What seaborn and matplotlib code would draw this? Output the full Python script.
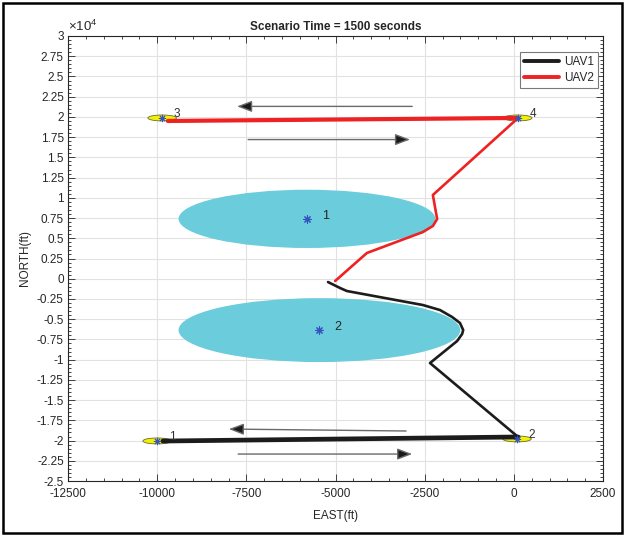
import matplotlib
matplotlib.use("Agg")
import matplotlib.pyplot as plt
import numpy as np
import pandas as pd
import seaborn as sns
from matplotlib.patches import Ellipse, Rectangle, FancyArrowPatch
from matplotlib.ticker import MultipleLocator, FuncFormatter

# UAV trajectories (feet)
uav1_east = [-5210, -4870, -4680, -2550, -2070, -1730, -1510, -1420, -1450, -1590, -2350, 120, -9840]
uav1_north = [-410, -1150, -1520, -3250, -3870, -4730, -5470, -6340, -6830, -7700, -10420, -19560, -20060]
uav2_east = [-5010, -4120, -2550, -2270, -2150, -2270, 120, -9700]
uav2_north = [-280, 3180, 5770, 6520, 7380, 10350, 19870, 19500]

# No-fly zones (center and radius, feet)
zone_ids = ["1", "2"]
zone_east = [-5800, -5450]
zone_north = [7400, -6350]
zone_radius = [3600, 3950]

# Waypoints
wp_ids = ["1", "2", "3", "4"]
wp_east = [-10000, 90, -9860, 110]
wp_north = [-20050, -19800, 19870, 19870]
wp_radius = 400

# Direction-of-travel arrows (start -> end)
arrow_start_e = [-2850, -7450, -3020, -7730]
arrow_start_n = [21300, 17200, -18820, -21670]
arrow_end_e = [-7760, -2910, -7990, -2850]
arrow_end_n = [21300, 17200, -18580, -21670]

x_ticks = [-12500, -10000, -7500, -5000, -2500, 0, 2500]
y_ticks = list(range(-25000, 30001, 2500))

sns.set_style("ticks")
plt.rcParams["font.family"] = ["Liberation Sans", "DejaVu Sans"]
plt.rcParams["mathtext.fontset"] = "custom"
plt.rcParams["mathtext.rm"] = "Liberation Sans"

fig = plt.figure(figsize=(6.25, 5.36), dpi=100)
ax = fig.add_axes([68 / 625, 1 - 481 / 536, 535 / 625, 445 / 536])
ax.set_facecolor("white")

ax.set_xlim(-12500, 2500)
ax.set_ylim(-25000, 30000)
ax.set_xticks(x_ticks)
ax.set_yticks(y_ticks)
ax.xaxis.set_minor_locator(MultipleLocator(500))
ax.yaxis.set_minor_locator(MultipleLocator(500))
ax.xaxis.set_major_formatter(FuncFormatter(lambda v, p: f"{v:g}"))
ax.yaxis.set_major_formatter(FuncFormatter(lambda v, p: f"{v / 1e4:g}"))
ax.grid(True, which="major", color="#e2e2e2", lw=0.8)
ax.set_axisbelow(True)
ax.tick_params(which="both", direction="in", top=True, right=True,
               labelsize=8.5, colors="#262626", width=0.6)
ax.tick_params(which="major", length=5)
ax.tick_params(axis="x", which="major", pad=5)
ax.tick_params(axis="y", which="major", pad=3)
ax.tick_params(which="minor", length=2.5)
for s in ax.spines.values():
    s.set_visible(True)
    s.set_color("#262626")
    s.set_linewidth(0.8)

# No-fly zones
for e, n, r, lab in zip(zone_east, zone_north, zone_radius, zone_ids):
    ax.add_patch(Ellipse((e, n), 2 * r, 2 * r, facecolor="#6bccdb",
                         edgecolor="none", zorder=1))
    ax.text(e + 420, n + 370, lab, fontsize=9, color="#262626",
            ha="left", va="center", zorder=5)

# Waypoints
for e, n, lab in zip(wp_east, wp_north, wp_ids):
    ax.add_patch(Ellipse((e, n), 2 * wp_radius, 2 * wp_radius * 0.92,
                         facecolor="#f2f200", edgecolor="#6a6a3a", lw=0.6,
                         zorder=2))
    ax.text(e + 330, n + 430, lab, fontsize=8.5, color="#303030",
            ha="left", va="center", zorder=5)

star = (8, 2, 0)
ax.scatter(zone_east, zone_north, marker=star, s=28, color="#3552c0",
           lw=0.8, zorder=6)
ax.scatter(wp_east, wp_north, marker=star, s=22, color="#3552c0",
           lw=0.7, zorder=6)

# Flight paths
paths = pd.concat([
    pd.DataFrame({"EAST": uav1_east, "NORTH": uav1_north, "UAV": "UAV1"}),
    pd.DataFrame({"EAST": uav2_east, "NORTH": uav2_north, "UAV": "UAV2"}),
], ignore_index=True)
palette = {"UAV1": "#1c1c1c", "UAV2": "#ee2222"}
sns.lineplot(data=paths, x="EAST", y="NORTH", hue="UAV", palette=palette,
             sort=False, estimator=None, lw=1.9, ax=ax, zorder=4)

# Repeated passes along the waypoint legs
sns.lineplot(x=uav1_east[-2:], y=uav1_north[-2:], color=palette["UAV1"],
             sort=False, estimator=None, lw=3.4, ax=ax, zorder=4, legend=False)
sns.lineplot(x=uav2_east[-2:], y=uav2_north[-2:], color=palette["UAV2"],
             sort=False, estimator=None, lw=3.0, ax=ax, zorder=4, legend=False)

for se, sn, ee, en in zip(arrow_start_e, arrow_start_n, arrow_end_e, arrow_end_n):
    ax.add_patch(FancyArrowPatch((se, sn), (ee, en),
                                 arrowstyle="-|>,head_length=1.0,head_width=0.38",
                                 mutation_scale=9, lw=1.0,
                                 edgecolor="#6a6a6a", facecolor="#1a1a1a",
                                 zorder=3, shrinkA=0, shrinkB=0))

handles, labels = ax.get_legend_handles_labels()
leg = ax.legend(handles, labels, loc="upper right",
                bbox_to_anchor=(530 / 535, 1 - 16 / 445), borderaxespad=0,
                fontsize=8.5, frameon=True, fancybox=False, framealpha=1,
                edgecolor="#7a7a7a", handlelength=3.0, handletextpad=0.4,
                borderpad=0.35, labelspacing=0.3, title=None)
leg.get_frame().set_linewidth(0.8)
for h in leg.get_lines():
    h.set_linewidth(2.8)

ax.set_title("Scenario Time = 1500 seconds", fontsize=8.5,
             fontweight="bold", color="#262626", pad=4)
ax.set_xlabel("EAST(ft)", fontsize=8.5, color="#262626", labelpad=7)
ax.set_ylabel("NORTH(ft)", fontsize=8.5, color="#262626", labelpad=4)
ax.text(0.0, 1.004, r"$\times\mathregular{10^{4}}$", transform=ax.transAxes,
        ha="left", va="bottom", fontsize=9.5, color="#262626")

# Figure frame
fig.add_artist(Rectangle((3 / 625, 3 / 536), 619 / 625, 530 / 536,
                         transform=fig.transFigure, fill=False,
                         edgecolor="black", lw=1.8))

fig.savefig("out.png", dpi=100)
